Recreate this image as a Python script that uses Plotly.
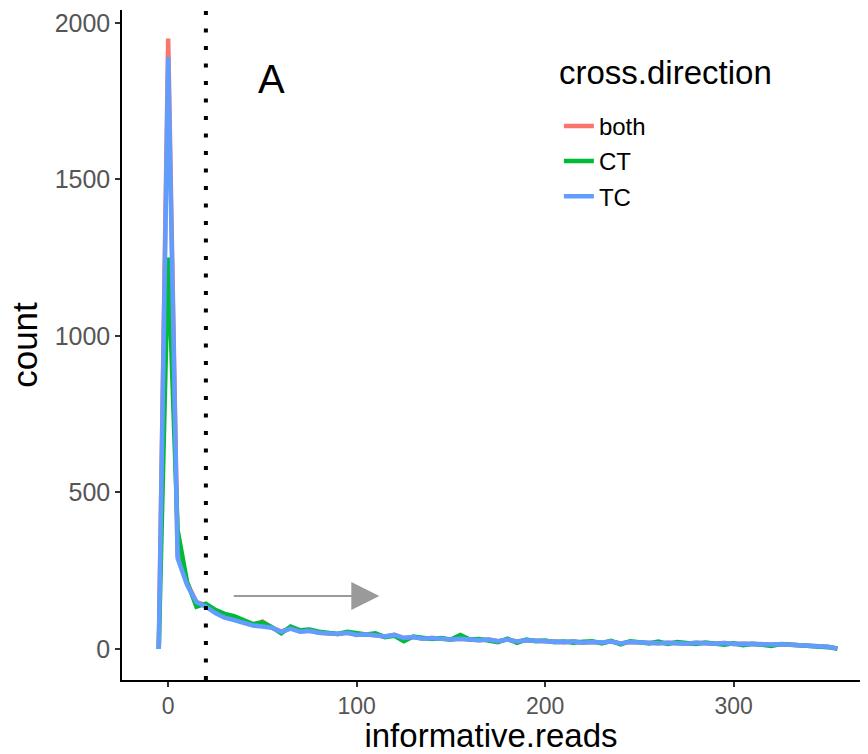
import plotly.graph_objects as go

# Bin centres of the frequency polygon (binwidth 5)
reads = list(range(-5, 360, 5))

count_both = [0, 1950, 300, 210, 150, 140, 118, 102, 94, 84, 76, 88, 68, 56, 66, 56, 58, 52, 50, 48,
              52, 46, 47, 43, 40, 45, 35, 38, 33, 35, 32, 30, 33, 30, 28, 30, 25, 30, 24, 28,
              26, 25, 24, 22, 25, 20, 22, 21, 24, 18, 22, 20, 21, 18, 20, 19, 17, 20, 18, 17,
              19, 16, 17, 15, 16, 14, 15, 14, 13, 12, 10, 7, 2]
count_CT = [0, 1250, 380, 215, 135, 145, 125, 112, 105, 92, 80, 85, 70, 50, 72, 60, 62, 55, 52, 48,
            55, 50, 46, 50, 38, 42, 25, 40, 35, 32, 35, 30, 45, 30, 32, 28, 22, 33, 20, 30,
            25, 27, 22, 24, 20, 23, 25, 18, 26, 15, 25, 22, 18, 24, 16, 22, 20, 16, 21, 18,
            14, 18, 12, 17, 15, 10, 16, 14, 12, 13, 9, 6, 1]
count_TC = [0, 1890, 290, 205, 150, 135, 115, 100, 92, 82, 75, 72, 68, 55, 65, 55, 58, 52, 50, 48,
            52, 45, 47, 42, 40, 45, 35, 38, 33, 35, 32, 30, 33, 30, 28, 30, 25, 30, 24, 28,
            26, 25, 24, 22, 25, 20, 22, 21, 24, 18, 22, 20, 21, 18, 20, 19, 17, 20, 18, 17,
            19, 16, 17, 15, 16, 14, 15, 14, 13, 12, 10, 7, 2]

series = [("both", count_both, "#F8766D"),
          ("CT", count_CT, "#00BA38"),
          ("TC", count_TC, "#619CFF")]

cutoff = 20
arrow_start, arrow_end, arrow_y = 34, 112, 169
panel_label = "A"
label_pos = (55, 1822)
legend_title = "cross.direction"

FONT = "Liberation Sans, Arial, sans-serif"

fig = go.Figure()
for name, vals, color in series:
    fig.add_trace(go.Scatter(x=reads, y=vals, mode="lines", name=name, legendgroup=name,
                             line=dict(color=color, width=4.5)))

# Cutoff marker
fig.add_shape(type="line", x0=cutoff, x1=cutoff, y0=0, y1=1, yref="paper",
              line=dict(color="black", width=4, dash="4px,13.5px"))

# Direction arrow
fig.add_annotation(x=arrow_end, y=arrow_y, ax=arrow_start, ay=arrow_y,
                   xref="x", yref="y", axref="x", ayref="y",
                   showarrow=True, arrowhead=2, arrowsize=2.8, arrowwidth=2,
                   arrowcolor="#9a9a9a", text="")

fig.add_annotation(x=label_pos[0], y=label_pos[1], text=panel_label, showarrow=False,
                   font=dict(size=40, color="black", family=FONT))

# Legend heading, set apart from the keys as in ggplot
fig.add_annotation(x=0.589, y=0.906, xref="paper", yref="paper", xanchor="left",
                   yanchor="middle", text=legend_title, showarrow=False,
                   font=dict(size=33, color="black", family=FONT))

axis_common = dict(showline=True, linecolor="black", linewidth=1.5, ticks="outside",
                   ticklen=5, tickwidth=1.5, tickcolor="#333", showgrid=False, zeroline=False,
                   mirror=False, automargin=False)

fig.update_layout(
    width=868, height=754,
    margin=dict(l=122, r=8, t=10, b=74),
    plot_bgcolor="white", paper_bgcolor="white",
    font=dict(family=FONT),
    xaxis=dict(range=[-24.5, 367], tickvals=[0, 100, 200, 300],
               tickfont=dict(size=23, color="#555", family=FONT),
               title=dict(text="informative.reads", font=dict(size=33, color="black"), standoff=15),
               **axis_common),
    yaxis=dict(range=[-99, 2041], tickvals=[0, 500, 1000, 1500, 2000],
               tickfont=dict(size=25, color="#555", family=FONT),
               title=dict(text="count", font=dict(size=35, color="black"), standoff=6),
               **axis_common),
    legend=dict(x=0.592, y=0.86, xanchor="left", yanchor="top",
                font=dict(size=24, color="black"), bgcolor="rgba(0,0,0,0)",
                tracegroupgap=1),
    showlegend=True,
)

fig.write_html("out.html")
